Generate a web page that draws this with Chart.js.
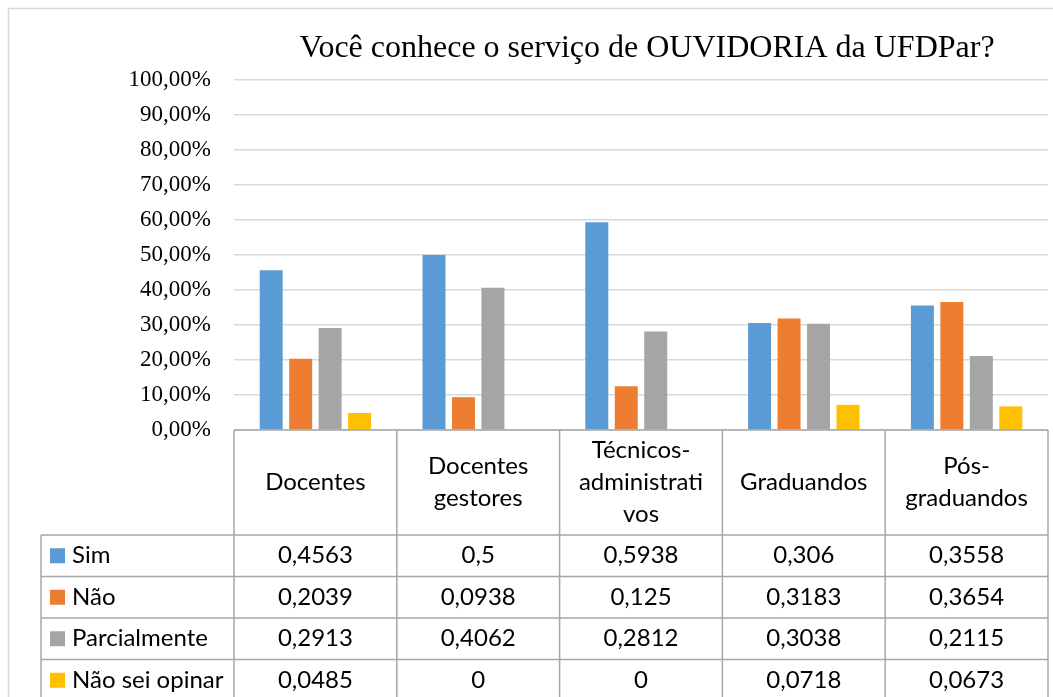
<!DOCTYPE html>
<html>
<head>
<meta charset="utf-8">
<script src="https://cdn.jsdelivr.net/npm/chart.js"></script>
<style>
  html, body { margin: 0; padding: 0; background: #fff; }
  #wrap { width: 1053px; height: 697px; }
</style>
</head>
<body>
<div id="wrap"><canvas id="chart" width="1053" height="697"></canvas></div>
<script>
const chartTitle = 'Você conhece o serviço de OUVIDORIA da UFDPar?';
// category labels, already split the way the table wraps them
const categories = [['Docentes'], ['Docentes', 'gestores'], ['Técnicos-', 'administrati', 'vos'], ['Graduandos'], ['Pós-', 'graduandos']];
const seriesNames = ['Sim', 'Não', 'Parcialmente', 'Não sei opinar'];
const seriesColors = ['#5b9bd5', '#ed7d31', '#a5a5a5', '#ffc000'];
const sim = [0.4563, 0.5, 0.5938, 0.306, 0.3558];
const nao = [0.2039, 0.0938, 0.125, 0.3183, 0.3654];
const parcialmente = [0.2913, 0.4062, 0.2812, 0.3038, 0.2115];
const naoSeiOpinar = [0.0485, 0, 0, 0.0718, 0.0673];
const seriesValues = [sim, nao, parcialmente, naoSeiOpinar];

const serif = "'Liberation Serif', 'Times New Roman', serif";
const sans = "Lato, 'Open Sans', sans-serif";
const lineColor = '#a6a6a6';

// outer chart frame
const frame = {
  id: 'frame',
  beforeDraw(chart) {
    const ctx = chart.ctx;
    ctx.save();
    ctx.fillStyle = '#fff';
    ctx.fillRect(0, 0, chart.width, chart.height);
    ctx.strokeStyle = '#d9d9d9';
    ctx.lineWidth = 1.5;
    ctx.strokeRect(8.5, 8.5, chart.width + 20, chart.height + 20);
    ctx.restore();
  }
};

// title over the plot
const titlePlugin = {
  id: 'titlePlugin',
  afterDraw(chart) {
    const ctx = chart.ctx, area = chart.chartArea;
    ctx.save();
    ctx.font = '32px ' + serif;
    ctx.fillStyle = '#000';
    ctx.textAlign = 'center';
    ctx.textBaseline = 'middle';
    ctx.fillText(chartTitle, (area.left + area.right) / 2 + 6, 49);
    ctx.restore();
  }
};

// Excel style data table under the axis
const dataTable = {
  id: 'dataTable',
  afterDraw(chart) {
    const ctx = chart.ctx, area = chart.chartArea, x = chart.scales.x;
    const top = area.bottom, headH = 105, rowH = 41.5;
    const legLeft = 41;
    const bottom = top + headH + rowH * seriesNames.length;
    const edges = [];
    for (let i = 0; i <= categories.length; i++) edges.push(x.getPixelForValue(i - 0.5));

    ctx.save();
    ctx.strokeStyle = lineColor;
    ctx.lineWidth = 1.5;
    ctx.beginPath();
    ctx.moveTo(edges[0], top);
    ctx.lineTo(edges[edges.length - 1], top);
    for (let r = 0; r < seriesNames.length; r++) {
      const y = top + headH + r * rowH;
      ctx.moveTo(legLeft, y);
      ctx.lineTo(edges[edges.length - 1], y);
    }
    edges.forEach(e => { ctx.moveTo(e, top); ctx.lineTo(e, bottom); });
    ctx.moveTo(legLeft, top + headH);
    ctx.lineTo(legLeft, bottom);
    ctx.stroke();

    ctx.fillStyle = '#000';
    ctx.font = '24px ' + sans;
    ctx.textBaseline = 'middle';
    ctx.textAlign = 'center';
    categories.forEach((lines, i) => {
      const cx = x.getPixelForValue(i);
      const lh = 32;
      const y0 = top + headH / 2 - (lines.length - 1) * lh / 2;
      lines.forEach((t, k) => ctx.fillText(t, cx, y0 + k * lh));
    });

    seriesNames.forEach((name, r) => {
      const cy = top + headH + r * rowH + rowH / 2;
      ctx.fillStyle = seriesColors[r];
      ctx.fillRect(50, cy - 7.5, 15, 15);
      ctx.fillStyle = '#000';
      ctx.textAlign = 'left';
      ctx.fillText(name, 72, cy);
      ctx.textAlign = 'center';
      seriesValues[r].forEach((v, i) => {
        ctx.fillText(String(v).replace('.', ','), x.getPixelForValue(i), cy);
      });
    });
    ctx.restore();
  }
};

new Chart(document.getElementById('chart'), {
  type: 'bar',
  data: {
    labels: categories,
    datasets: seriesNames.map((name, i) => ({
      label: name,
      data: seriesValues[i],
      backgroundColor: seriesColors[i],
      borderWidth: 0,
      categoryPercentage: 0.724,
      barPercentage: 0.78
    }))
  },
  options: {
    responsive: false,
    animation: false,
    layout: { padding: { top: 80, right: 5, bottom: 267, left: 0 } },
    plugins: {
      legend: { display: false },
      title: { display: false },
      tooltip: { enabled: false }
    },
    scales: {
      x: { display: false },
      y: {
        min: 0,
        max: 1,
        afterFit: scale => { scale.width = 234; },
        ticks: {
          stepSize: 0.1,
          padding: 23,
          color: '#000',
          font: { family: serif, size: 23 },
          callback: v => (v * 100).toFixed(2).replace('.', ',') + '%'
        },
        grid: { color: '#d9d9d9', lineWidth: 1.5, drawTicks: false },
        border: { display: false }
      }
    }
  },
  plugins: [frame, titlePlugin, dataTable]
});
</script>
</body>
</html>
